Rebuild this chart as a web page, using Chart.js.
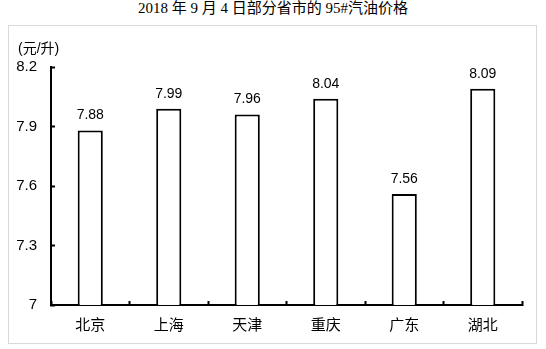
<!DOCTYPE html>
<html>
<head>
<meta charset="utf-8">
<script src="https://cdn.jsdelivr.net/npm/chart.js@4"></script>
<style>
  html, body { margin: 0; padding: 0; background: #fff; }
  body { width: 546px; height: 349px; position: relative; overflow: hidden; }
  #title {
    position: absolute; left: 0; top: 0; width: 546px; text-align: center;
    font: 15px "Liberation Serif", "Noto Sans CJK SC", serif; line-height: 17px; color: #000;
  }
  #frame {
    position: absolute; left: 8px; top: 25px; width: 527px; height: 317px;
    border: 1px solid #d9d9d9;
  }
  #unit {
    position: absolute; left: 9px; top: 11px;
    font: 14px "Liberation Sans", "Noto Sans CJK SC", sans-serif; color: #000;
  }
  canvas { position: absolute; left: 0; top: 0; }
</style>
</head>
<body>
<div id="title">2018 年 9 月 4 日部分省市的 95#汽油价格</div>
<div id="frame">
  <canvas id="chart" width="527" height="317"></canvas>
  <div id="unit">(元/升)</div>
</div>
<script>
const provinces = ["北京", "上海", "天津", "重庆", "广东", "湖北"];
const prices = [7.88, 7.99, 7.96, 8.04, 7.56, 8.09];
const yTicks = [7, 7.3, 7.6, 7.9, 8.2];

const valueLabels = {
  id: "valueLabels",
  afterDatasetsDraw(chart) {
    const ctx = chart.ctx;
    const meta = chart.getDatasetMeta(0);
    ctx.save();
    ctx.font = "14px 'Liberation Sans', Arial, sans-serif";
    ctx.fillStyle = "#000";
    ctx.textAlign = "center";
    ctx.textBaseline = "bottom";
    meta.data.forEach(function (bar, i) {
      ctx.fillText(prices[i].toFixed(2), bar.x, bar.y - 8);
    });
    ctx.restore();
  }
};

new Chart(document.getElementById("chart"), {
  type: "bar",
  data: {
    labels: provinces,
    datasets: [
      {
        data: prices,
        backgroundColor: "#fff",
        borderColor: "#000",
        borderWidth: 2,
        borderSkipped: "bottom",
        categoryPercentage: 1,
        barPercentage: 0.32,
      },
    ],
  },
  options: {
    responsive: false,
    animation: false,
    layout: { padding: { top: 41, right: 14, left: 0, bottom: 0 } },
    plugins: { legend: { display: false }, tooltip: { enabled: false } },
    scales: {
      x: {
        grid: { drawOnChartArea: false, tickLength: -4, tickWidth: 2, tickColor: "#000", offset: true },
        border: { color: "#000", width: 2 },
        ticks: {
          color: "#000",
          padding: 14,
          font: { size: 15, family: "'Noto Sans CJK SC', sans-serif" },
        },
        afterFit(scale) { scale.height = 38; },
      },
      y: {
        min: 7,
        max: 8.2,
        afterBuildTicks(scale) {
          scale.ticks = yTicks.map(function (v) { return { value: v }; });
        },
        grid: { drawOnChartArea: false, tickLength: -4, tickWidth: 2, tickColor: "#000" },
        border: { color: "#000", width: 2 },
        ticks: {
          color: "#000",
          padding: 18,
          font: { size: 15, family: "'Liberation Sans', Arial, sans-serif" },
          callback: function (v) { return String(v); },
        },
        afterFit(scale) { scale.width = 42; },
      },
    },
  },
  plugins: [valueLabels],
});
</script>
</body>
</html>
